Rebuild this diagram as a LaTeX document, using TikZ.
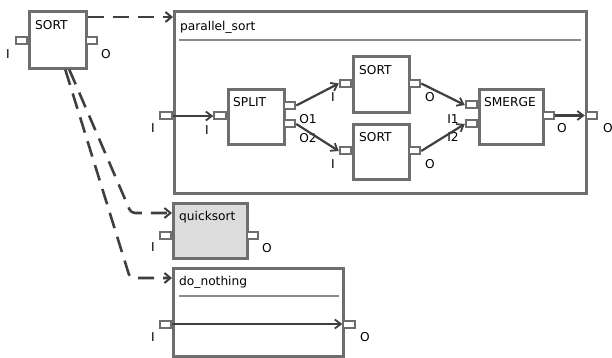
\documentclass[tikz,border=0pt]{standalone}
\usepackage{fontspec}
\setmainfont{DejaVu Sans}
\usetikzlibrary{arrows.meta,calc}
\definecolor{boxc}{HTML}{6E6E6E}
\definecolor{linec}{HTML}{3F3F3F}
\definecolor{qsfill}{HTML}{DCDCDC}
\definecolor{sepc}{HTML}{8A8A8A}
\begin{document}
\begin{tikzpicture}[x=1pt,y=-1pt,
  blk/.style={draw=boxc,line width=2.6pt,fill=white,inner sep=0pt,anchor=north west},
  prt/.style={draw=boxc,line width=2pt,fill=white,inner sep=0pt,minimum width=11.5pt,minimum height=7pt},
  ttl/.style={anchor=base west,inner sep=0pt,font=\fontsize{12.2}{14}\selectfont},
  lbl/.style={inner sep=0pt,font=\fontsize{12.2}{14}\selectfont},
  conn/.style={draw=linec,line width=2.2pt,-{Straight Barb[length=6pt,width=9pt,line width=1.8pt]}},
  dep/.style={draw=linec,line width=2.6pt,dash pattern=on 16pt off 9pt,rounded corners=4pt,-{Straight Barb[length=6pt,width=10pt,line width=2pt]}},
  sepl/.style={draw=sepc,line width=1.6pt}]
\useasboundingbox (0,0) rectangle (612,358);
% boxes
\node[blk,minimum width=57pt,minimum height=57pt] (sort) at (28,10) {};
\node[blk,minimum width=412pt,minimum height=182pt] (psort) at (173,10) {};
\node[blk,minimum width=56pt,minimum height=55pt] (split) at (227,88) {};
\node[blk,minimum width=56pt,minimum height=56pt] (sorta) at (352,55) {};
\node[blk,minimum width=56pt,minimum height=55pt] (sortb) at (352,123) {};
\node[blk,minimum width=64pt,minimum height=55pt] (smerge) at (478,88) {};
\node[blk,fill=qsfill,minimum width=74pt,minimum height=55pt] (qs) at (172,202) {};
\node[blk,minimum width=170pt,minimum height=88pt] (dn) at (172,267) {};
% titles
\node[ttl] (tsort) at (35,30) {SORT};
\node[ttl] (tpsort) at (180,31) {parallel\_sort};
\node[ttl] (tsplit) at (233,107) {SPLIT};
\node[ttl] (tsorta) at (359,75) {SORT};
\node[ttl] (tsortb) at (359,142) {SORT};
\node[ttl] (tsmerge) at (484,107) {SMERGE};
\node[ttl] (tqs) at (179,220) {quicksort};
\node[ttl] (tdn) at (179,285) {do\_nothing};
% separators
\draw[sepl] ($(psort.north west)+(6,30)$) -- ($(psort.north east)+(-7,30)$);
\draw[sepl] ($(dn.north west)+(7,29)$) -- ($(dn.north east)+(-6,29)$);
% ports
\node[prt] (sorti) at (21.5,41) {};
\node[prt] (sorto) at (91.5,41) {};
\node[prt] (psorti) at (166,116) {};
\node[prt] (psorto) at (591.5,115.5) {};
\node[prt] (spliti) at (220,116) {};
\node[prt] (splito1) at (289.5,105.5) {};
\node[prt] (splito2) at (289.5,124) {};
\node[prt] (sortai) at (345.5,83.5) {};
\node[prt] (sortao) at (414.5,83.5) {};
\node[prt] (sortbi) at (345.5,151) {};
\node[prt] (sortbo) at (414.5,151) {};
\node[prt] (smergei1) at (471.5,105) {};
\node[prt] (smergei2) at (471.5,124) {};
\node[prt] (smergeo) at (548.5,115.5) {};
\node[prt] (qsi) at (165.5,235) {};
\node[prt] (qso) at (252.5,235) {};
\node[prt] (dni) at (165.5,324) {};
\node[prt] (dno) at (349,324) {};
% port labels
\node[lbl] (lsorti) at (8,54) {I};
\node[lbl] (lsorto) at (106,54) {O};
\node[lbl] (lpsorti) at (153,128) {I};
\node[lbl] (lpsorto) at (608,128) {O};
\node[lbl] (lspliti) at (207,130) {I};
\node[lbl] (lsplito1) at (308,119) {O1};
\node[lbl] (lsplito2) at (308,138) {O2};
\node[lbl] (lsortai) at (333,97) {I};
\node[lbl] (lsortao) at (430,97) {O};
\node[lbl] (lsortbi) at (333,164) {I};
\node[lbl] (lsortbo) at (430,164) {O};
\node[lbl] (lsmi1) at (453,119) {I1};
\node[lbl] (lsmi2) at (453,137) {I2};
\node[lbl] (lsmo) at (562,128) {O};
\node[lbl] (lqsi) at (153,247) {I};
\node[lbl] (lqso) at (267,248) {O};
\node[lbl] (ldni) at (153,337) {I};
\node[lbl] (ldno) at (365,337) {O};
% solid connectors
\draw[conn] (psorti.east) -- (spliti.west);
\draw[conn] (splito1.east) -- (sortai.west);
\draw[conn] (splito2.east) -- (sortbi.west);
\draw[conn] (sortao.east) -- (smergei1.west);
\draw[conn] (sortbo.east) -- (smergei2.west);
\draw[conn] (smergeo.east) -- (psorto.west);
\draw[conn] (dni.east) -- (dno.west);
% dashed refinement connectors
\coordinate (d1s) at ($(sort.north east)+(0,7)$);
\coordinate (d1e) at ($(psort.north west)+(0,7)$);
\coordinate (d2s) at ($(sort.south)+(11.5,0)$);
\coordinate (d2b) at (131,213);
\coordinate (d2e) at ($(qs.north west)+(0,11)$);
\coordinate (d3s) at ($(sort.south)+(7.5,0)$);
\coordinate (d3b) at (130,278);
\coordinate (d3e) at ($(dn.north west)+(0,11)$);
\draw[dep] (d1s) -- (d1e);
\draw[dep] (d2s) -- (d2b) -- (d2e);
\draw[dep] (d3s) -- (d3b) -- (d3e);
\end{tikzpicture}
\end{document}
